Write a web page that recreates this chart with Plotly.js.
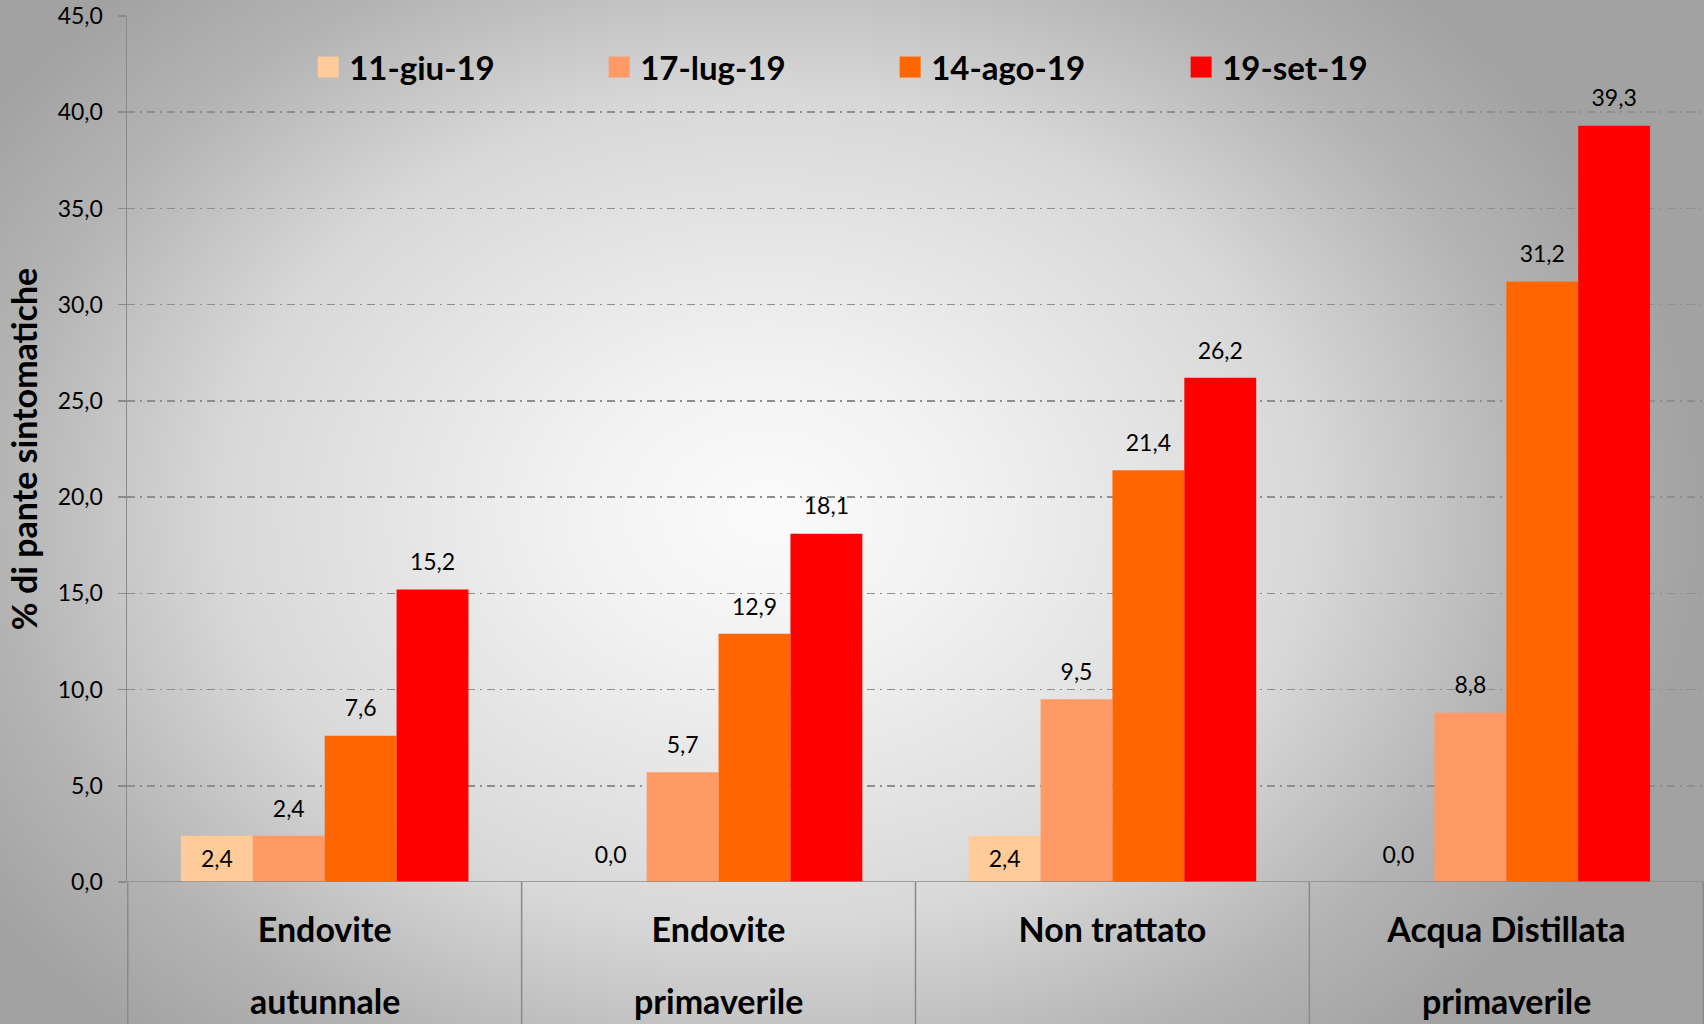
<!DOCTYPE html>
<html><head><meta charset="utf-8">
<script src="https://cdn.plot.ly/plotly-3.0.1.min.js"></script>
<style>
html,body{margin:0;padding:0;}
#chart{width:1704px;height:1024px;background:radial-gradient(ellipse 55% 70% at 45% 50%, #fbfbfb 0%, #f2f2f2 20%, #d8d8d8 58%, #b4b4b4 82%, #a2a2a2 100%);}
#chart .legend .legendpoints path{transform:translateX(19px) scale(1.75);}
#chart .legend .scrollbox{clip-path:none !important;}
</style></head><body><div id="chart"></div>
<script>
const categoryLine1 = ["Endovite", "Endovite", "Non trattato", "Acqua Distillata"];
const categoryLine2 = ["autunnale", "primaverile", "", "primaverile"];
const seriesNames = ["11-giu-19", "17-lug-19", "14-ago-19", "19-set-19"];
const giu11 = [2.4, 0.0, 2.4, 0.0];
const lug17 = [2.4, 5.7, 9.5, 8.8];
const ago14 = [7.6, 12.9, 21.4, 31.2];
const set19 = [15.2, 18.1, 26.2, 39.3];
const seriesColors = ["#FFCC99", "#FF9966", "#FF6600", "#FF0000"];
const yTickVals = [0, 5, 10, 15, 20, 25, 30, 35, 40, 45];

const categories = categoryLine1.map((a, i) => (a + " " + categoryLine2[i]).trim());
const seriesValues = [giu11, lug17, ago14, set19];
const FONT = "Lato, 'Open Sans', sans-serif";

const barTraces = seriesValues.map((vals, k) => ({
  type: "bar",
  name: seriesNames[k],
  x: categories,
  y: vals,
  offsetgroup: "g" + k,
  marker: {color: seriesColors[k], line: {width: 0}},
  hoverinfo: "skip"
}));

const labelTraces = seriesValues.map((vals, k) => ({
  type: "scatter",
  mode: "markers+text",
  showlegend: false,
  x: categories,
  y: vals,
  offsetgroup: "g" + k,
  marker: {size: 20, opacity: 0, color: seriesColors[k]},
  texttemplate: "%{y:.1f}",
  textposition: k === 0 ? vals.map(v => v > 0 ? "bottom center" : "top center") : "top center",
  textfont: {family: FONT, size: 23, color: "#000"},
  cliponaxis: false,
  hoverinfo: "skip"
}));

const shapes = [-0.5, 0.5, 1.5, 2.5, 3.5].map(b => ({
  type: "line", xref: "x", yref: "paper", x0: b, x1: b, y0: 0, y1: -0.17,
  line: {color: "#8a8a8a", width: 1.5}, layer: "below"
}));

const annotations = categories.map((c, i) => ({
  xref: "x", yref: "paper", x: c, y: -0.1363, yanchor: "middle", xanchor: "center",
  text: categoryLine2[i], showarrow: false,
  font: {family: FONT, size: 34, color: "#000", weight: 700}
}));

const layout = {
  width: 1704, height: 1024,
  margin: {l: 127, r: 0, t: 16, b: 142},
  paper_bgcolor: "rgba(0,0,0,0)",
  plot_bgcolor: "rgba(0,0,0,0)",
  separators: ",.",
  barmode: "group",
  bargap: 0.27,
  bargroupgap: 0,
  scattermode: "group",
  scattergap: 0.27,
  showlegend: true,
  legend: {
    orientation: "h", x: 0.1155, xanchor: "left", y: 0.941, yanchor: "middle",
    entrywidth: 246, entrywidthmode: "pixels",
    font: {family: FONT, size: 33, color: "#000", weight: 700},
    bgcolor: "rgba(0,0,0,0)", traceorder: "normal"
  },
  xaxis: {
    type: "category",
    tickvals: categories, ticktext: categoryLine1,
    showgrid: false, zeroline: false, showline: false,
    ticks: "", ticklabelstandoff: 25,
    tickfont: {family: FONT, size: 34, color: "#000", weight: 700}
  },
  yaxis: {
    range: [0, 45], tickvals: yTickVals, tickformat: ".1f",
    showgrid: true, gridcolor: "#8e8e8e", griddash: "8px,5px,2px,5px", gridwidth: 1.5,
    zeroline: false, showline: true, linecolor: "#8a8a8a", linewidth: 1.5,
    ticks: "outside", ticklen: 8, tickcolor: "#8a8a8a", tickwidth: 1.5,
    ticklabelstandoff: 10,
    tickfont: {family: FONT, size: 23, color: "#000"},
    title: {text: "% di pante sintomatiche", standoff: 10,
            font: {family: FONT, size: 34, color: "#000", weight: 700}}
  },
  annotations: annotations,
  shapes: shapes.concat([{
    type: "line", xref: "paper", yref: "y", x0: -0.005, x1: 1, y0: 0, y1: 0,
    line: {color: "#8a8a8a", width: 1.5}
  }]),
  font: {family: FONT}
};

Plotly.newPlot("chart", barTraces.concat(labelTraces), layout, {staticPlot: true, displayModeBar: false});
</script></body></html>
